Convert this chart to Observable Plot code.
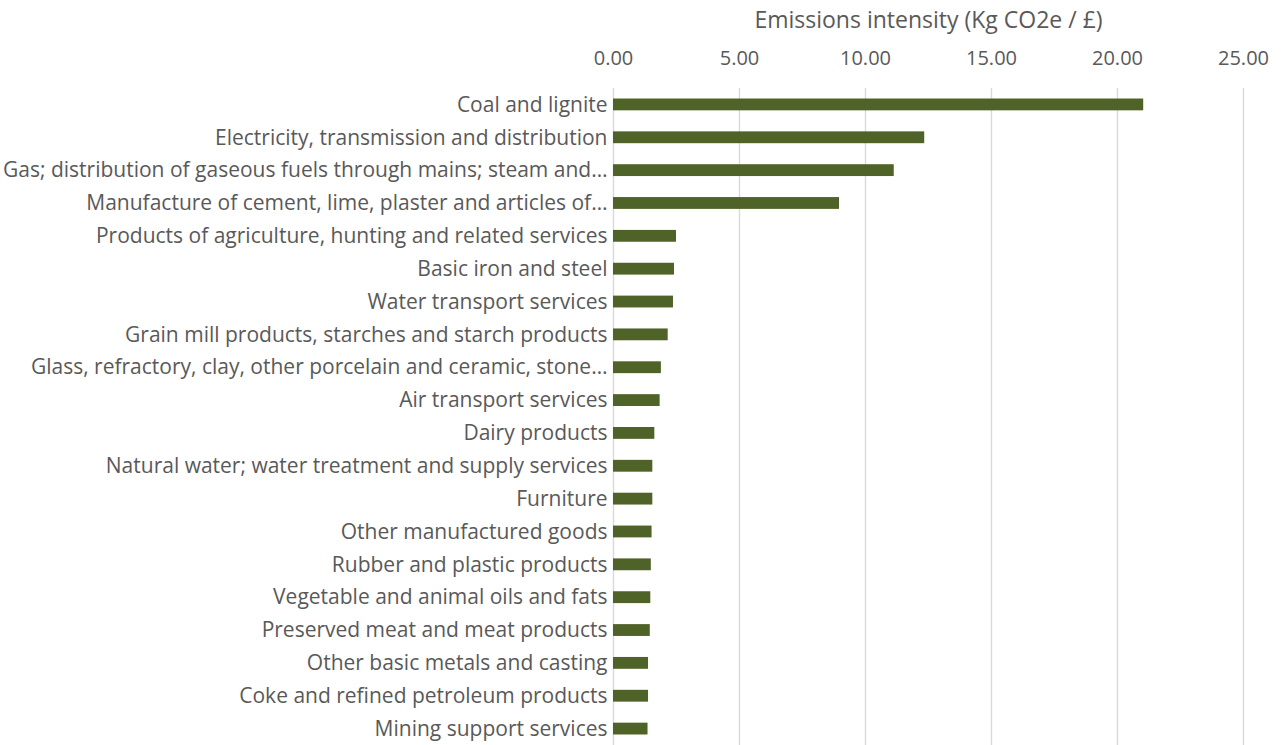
<!DOCTYPE html>
<html><head><meta charset="utf-8">
<script src="https://cdn.jsdelivr.net/npm/d3@7"></script>
<script src="https://cdn.jsdelivr.net/npm/@observablehq/plot@0.6"></script>
<style>body{margin:0;background:#fff;overflow:hidden;}</style>
</head><body><div id="chart"></div>
<script>
const categories = [
  "Coal and lignite",
  "Electricity, transmission and distribution",
  "Gas; distribution of gaseous fuels through mains; steam and…",
  "Manufacture of cement, lime, plaster and articles of…",
  "Products of agriculture, hunting and related services",
  "Basic iron and steel",
  "Water transport services",
  "Grain mill products, starches and starch products",
  "Glass, refractory, clay, other porcelain and ceramic, stone…",
  "Air transport services",
  "Dairy products",
  "Natural water; water treatment and supply services",
  "Furniture",
  "Other manufactured goods",
  "Rubber and plastic products",
  "Vegetable and animal oils and fats",
  "Preserved meat and meat products",
  "Other basic metals and casting",
  "Coke and refined petroleum products",
  "Mining support services"
];
const values = [21.04, 12.35, 11.14, 8.97, 2.50, 2.42, 2.38, 2.17, 1.90, 1.85, 1.64, 1.56, 1.56, 1.53, 1.50, 1.48, 1.46, 1.39, 1.39, 1.37];
const xTicks = [0, 5, 10, 15, 20, 25];
const xTitle = "Emissions intensity (Kg CO2e / £)";

const data = categories.map((c, i) => ({category: c, value: values[i]}));

const chart = Plot.plot({
  width: 1284,
  height: 745,
  marginTop: 88,
  marginBottom: 0,
  marginLeft: 613,
  marginRight: 41,
  style: {fontFamily: "'Open Sans', sans-serif", fontSize: "20px", color: "#595959", background: "#fff"},
  x: {domain: [0, 25]},
  y: {domain: categories, paddingInner: 0.64, paddingOuter: 0.32, round: false},
  marks: [
    Plot.gridX(xTicks, {stroke: "#d9d9d9", strokeOpacity: 1, strokeWidth: 1.4}),
    Plot.axisX({anchor: "top", ticks: xTicks, tickSize: 0, tickPadding: 24, fontSize: 20,
      tickFormat: d3.format(".2f"), label: null}),
    Plot.text([xTitle], {frameAnchor: "top", lineAnchor: "middle", dy: -68, fontSize: 23, fill: "#595959"}),
    Plot.axisY({tickSize: 0, tickPadding: 6, fontSize: 21, label: null}),
    Plot.barX(data, {x: "value", y: "category", fill: "#4f6228"})
  ]
});
document.getElementById("chart").append(chart);
</script>
</body></html>
